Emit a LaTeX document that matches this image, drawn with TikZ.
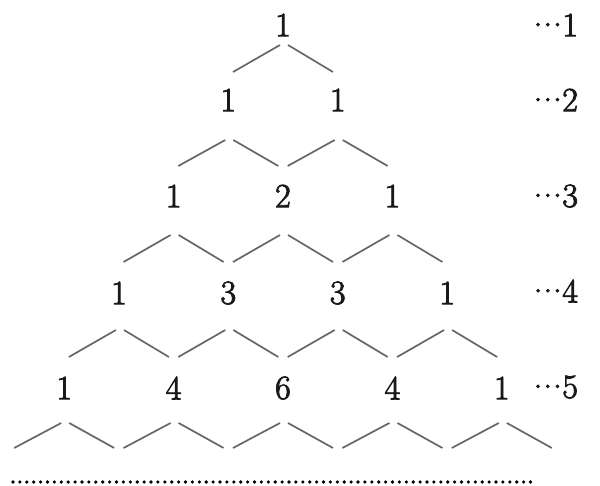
\documentclass[tikz,border=0pt]{standalone}
\usepackage{fontspec}
\newfontfamily\numfont{Latin Modern Roman}[FakeBold=2.5]
\newcommand\ldot{\makebox[9.7pt]{·}}
\usetikzlibrary{calc}
\begin{document}
\begin{tikzpicture}[x=1pt,y=-1pt,
  num/.style={font=\numfont\fontsize{34}{40}\selectfont, inner sep=0pt, text=black!90},
  lbl/.style={font=\numfont\fontsize{34}{40}\selectfont, inner sep=0pt, anchor=west, text=black!90},
  branch/.style={draw=black!60, line width=1.7pt},
  dotrule/.style={draw=black, line width=3.6pt, line cap=round, dash pattern=on 0pt off 6.9pt}]
\useasboundingbox (0,0) rectangle (600,486);
% row 1
\node[num] (n11) at (283,25) {1};
% row 2
\node[num] (n21) at (228.3,100) {1};
\node[num] (n22) at (337.7,100) {1};
% row 3
\node[num] (n31) at (173.6,196) {1};
\node[num] (n32) at (283,196) {2};
\node[num] (n33) at (392.4,196) {1};
% row 4
\node[num] (n41) at (118.9,293) {1};
\node[num] (n42) at (228.3,293) {3};
\node[num] (n43) at (337.7,293) {3};
\node[num] (n44) at (447.1,293) {1};
% row 5
\node[num] (n51) at (64.2,388) {1};
\node[num] (n52) at (173.6,388) {4};
\node[num] (n53) at (283,388) {6};
\node[num] (n54) at (392.4,388) {4};
\node[num] (n55) at (501.8,388) {1};
% row labels
\node[lbl] (l1) at (533,25) {\ldot\ldot\ldot 1};
\node[lbl] (l2) at (533,100) {\ldot\ldot\ldot 2};
\node[lbl] (l3) at (533,196) {\ldot\ldot\ldot 3};
\node[lbl] (l4) at (533,291) {\ldot\ldot\ldot 4};
\node[lbl] (l5) at (533,387) {\ldot\ldot\ldot 5};
% branches
\foreach \r/\y/\t/\b in {1/25/45/72,2/100/140/166,3/196/235/262,4/293/330/357,5/388/423/448}
  \foreach \c in {1,...,\r} {
    \draw[branch] ($(n\r\c.center)+(-50,\b-\y)$) -- ($(n\r\c.center)+(-3,\t-\y)$);
    \draw[branch] ($(n\r\c.center)+(5,\t-\y)$) -- ($(n\r\c.center)+(50,\b-\y)$);
  }
% dotted rule
\coordinate (d0) at (13,482);
\coordinate (d1) at (531,482);
\draw[dotrule] (d0) -- (d1);
\end{tikzpicture}
\end{document}
